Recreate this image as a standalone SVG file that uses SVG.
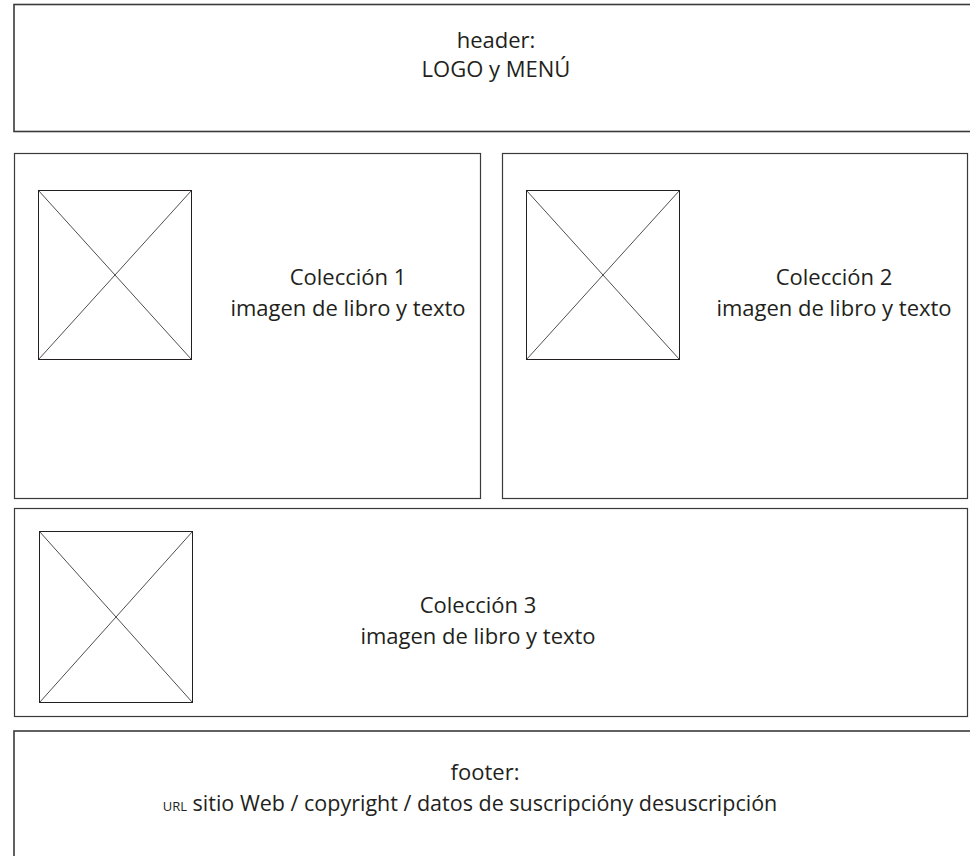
<svg xmlns="http://www.w3.org/2000/svg" width="970" height="856" viewBox="0 0 970 856">
<style>
  .box { fill: #ffffff; stroke: #3a3a3a; stroke-width: 1.2; }
  .hbox { fill: #ffffff; stroke: #3a3a3a; stroke-width: 1.6; }
  .img { fill: none; stroke: #231f20; stroke-width: 1; }
  .x { stroke: #231f20; stroke-width: 0.8; }
  text { font-family: "Open Sans", "Liberation Sans", sans-serif; font-size: 22px; fill: #231f20; text-anchor: middle; }
  .foot { font-size: 21.5px; }
  .small { font-size: 13px; }
</style>
<rect width="970" height="856" fill="#ffffff"/>
<g id="header">
  <rect class="hbox" x="14" y="4.5" width="962" height="127"/>
  <text x="496" y="48">header:</text>
  <text x="496" y="77">LOGO y MENÚ</text>
</g>
<g id="coleccion1">
  <rect class="box" x="14.5" y="153.5" width="466" height="345"/>
  <rect class="img" x="38.5" y="190.5" width="153" height="169"/>
  <line class="x" x1="38.5" y1="190.5" x2="191.5" y2="359.5"/>
  <line class="x" x1="191.5" y1="190.5" x2="38.5" y2="359.5"/>
  <text x="348" y="285">Colección 1</text>
  <text x="348" y="316">imagen de libro y texto</text>
</g>
<g id="coleccion2">
  <rect class="box" x="502.5" y="153.5" width="465" height="345"/>
  <rect class="img" x="526.5" y="190.5" width="153" height="169"/>
  <line class="x" x1="526.5" y1="190.5" x2="679.5" y2="359.5"/>
  <line class="x" x1="679.5" y1="190.5" x2="526.5" y2="359.5"/>
  <text x="834" y="285">Colección 2</text>
  <text x="834" y="316">imagen de libro y texto</text>
</g>
<g id="coleccion3">
  <rect class="box" x="14.5" y="508.5" width="953" height="208"/>
  <rect class="img" x="39.5" y="531.5" width="153" height="171"/>
  <line class="x" x1="39.5" y1="531.5" x2="192.5" y2="702.5"/>
  <line class="x" x1="192.5" y1="531.5" x2="39.5" y2="702.5"/>
  <text x="478" y="613">Colección 3</text>
  <text x="478" y="644">imagen de libro y texto</text>
</g>
<g id="footer">
  <rect class="hbox" x="14" y="731" width="962" height="140"/>
  <text x="485" y="780">footer:</text>
  <text class="foot" x="470" y="811"><tspan class="small">URL</tspan> sitio Web / copyright / datos de suscripcióny desuscripción</text>
</g>
<g id="connectors"></g>
</svg>
